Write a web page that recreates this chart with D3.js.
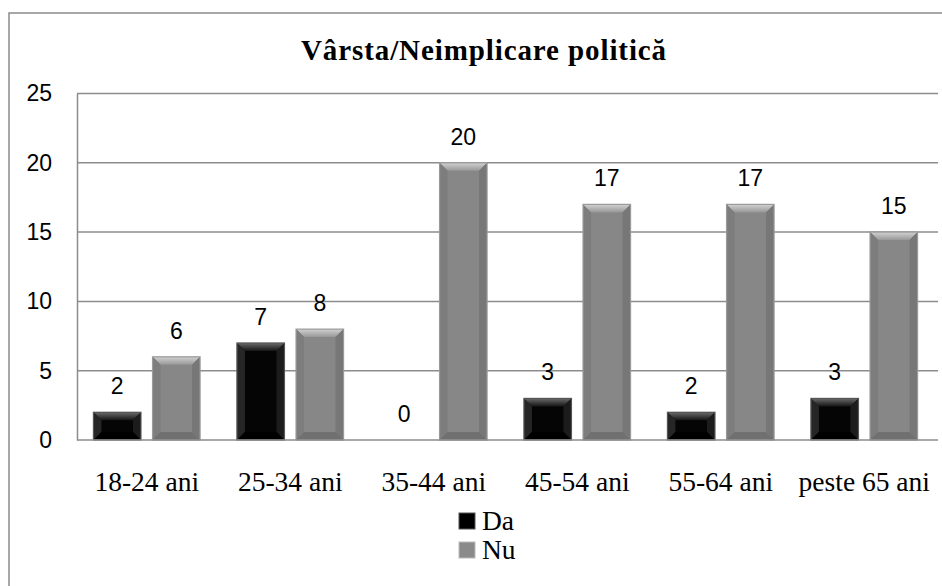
<!DOCTYPE html>
<html>
<head>
<meta charset="utf-8">
<script src="https://cdn.jsdelivr.net/npm/d3@7"></script>
<style>
  html, body { margin: 0; padding: 0; background: #fff; }
  svg { display: block; }
</style>
</head>
<body>
<svg id="chart" width="942" height="586"></svg>
<script>
const categories = ["18-24 ani", "25-34 ani", "35-44 ani", "45-54 ani", "55-64 ani", "peste 65 ani"];
const seriesNames = ["Da", "Nu"];
const daValues = [2, 7, 0, 3, 2, 3];
const nuValues = [6, 8, 20, 17, 17, 15];
const yTicks = [0, 5, 10, 15, 20, 25];
const titleText = "Vârsta/Neimplicare politică";

const svg = d3.select("#chart");
const plot = { left: 77, right: 938, top: 93.5, bottom: 440 };

const defs = svg.append("defs");
function vgrad(id, stops) {
  const g = defs.append("linearGradient").attr("id", id).attr("x1", 0).attr("y1", 0).attr("x2", 0).attr("y2", 1);
  stops.forEach(s => g.append("stop").attr("offset", s[0]).attr("stop-color", s[1]));
}
function hgrad(id, stops) {
  const g = defs.append("linearGradient").attr("id", id).attr("x1", 0).attr("y1", 0).attr("x2", 1).attr("y2", 0);
  stops.forEach(s => g.append("stop").attr("offset", s[0]).attr("stop-color", s[1]));
}
hgrad("bodyDa", [[0, "#1a1a1a"], [0.15, "#050505"], [0.85, "#050505"], [1, "#1a1a1a"]]);
hgrad("bodyNu", [[0, "#777"], [0.15, "#878787"], [0.85, "#878787"], [1, "#777"]]);
vgrad("topDa", [[0, "#6a6a6a"], [1, "#151515"]]);
vgrad("topNu", [[0, "#d2d2d2"], [1, "#979797"]]);

// outer border
svg.append("rect").attr("x", 9).attr("y", 13).attr("width", 960).attr("height", 600)
  .attr("fill", "none").attr("stroke", "#8a8a8a").attr("stroke-width", 1.5);

// title
svg.append("text").attr("x", 484).attr("y", 60).attr("text-anchor", "middle")
  .attr("font-family", "'Liberation Serif', serif").attr("font-weight", "bold")
  .attr("font-size", 29).attr("letter-spacing", 0.9).attr("fill", "#000").text(titleText);

const y = d3.scaleLinear().domain([0, 25]).range([plot.bottom, plot.top]);
const x0 = d3.scaleBand().domain(categories).range([plot.left - 2, plot.right - 2]).paddingInner(0.257).paddingOuter(0.1285);
const x1 = d3.scaleBand().domain(seriesNames).range([0, x0.bandwidth()]).paddingInner(0.196);

// grid lines
svg.append("g").selectAll("line").data(yTicks.filter(t => t > 0)).join("line")
  .attr("x1", plot.left).attr("x2", plot.right)
  .attr("y1", d => y(d)).attr("y2", d => y(d))
  .attr("stroke", "#8c8c8c").attr("stroke-width", 1.5);

// y axis
const yAxis = d3.axisLeft(y).tickValues(yTicks).tickSize(0).tickPadding(25);
const gy = svg.append("g").attr("transform", `translate(${plot.left},0)`).call(yAxis);
gy.select(".domain").attr("stroke", "#8c8c8c").attr("stroke-width", 1.5);
gy.selectAll("text").attr("font-family", "'Liberation Sans', sans-serif").attr("font-size", 23).attr("fill", "#000");

// bars
const data = categories.map((c, i) => ({ cat: c, vals: [{ s: "Da", v: daValues[i] }, { s: "Nu", v: nuValues[i] }] }));
const groups = svg.append("g").selectAll("g").data(data).join("g")
  .attr("transform", d => `translate(${x0(d.cat)},0)`);

const bars = groups.selectAll("g.bar").data(d => d.vals).join("g").attr("class", "bar");
bars.each(function (d) {
  if (d.v <= 0) return;
  const g = d3.select(this);
  const bx = x1(d.s), bw = x1.bandwidth();
  const by = y(d.v), bh = y(0) - y(d.v);
  const isDa = d.s === "Da";
  const b = Math.min(8, bh / 2);
  g.append("rect").attr("x", bx).attr("y", by).attr("width", bw).attr("height", bh)
    .attr("fill", isDa ? "url(#bodyDa)" : "url(#bodyNu)");
  g.append("path").attr("d", `M${bx},${by}L${bx + bw},${by}L${bx + bw - b},${by + b}L${bx + b},${by + b}Z`)
    .attr("fill", isDa ? "url(#topDa)" : "url(#topNu)");
  g.append("path").attr("d", `M${bx},${by}L${bx + b},${by + b}L${bx + b},${by + bh - b}L${bx},${by + bh}Z`)
    .attr("fill", isDa ? "#262626" : "#7d7d7d");
  g.append("path").attr("d", `M${bx + bw},${by}L${bx + bw - b},${by + b}L${bx + bw - b},${by + bh - b}L${bx + bw},${by + bh}Z`)
    .attr("fill", isDa ? "#1c1c1c" : "#777");
  g.append("path").attr("d", `M${bx},${by + bh}L${bx + b},${by + bh - b}L${bx + bw - b},${by + bh - b}L${bx + bw},${by + bh}Z`)
    .attr("fill", isDa ? "#000" : "#707070");
  g.append("rect").attr("x", bx).attr("y", by).attr("width", bw).attr("height", bh)
    .attr("fill", "none").attr("stroke", isDa ? "#555" : "#9a9a9a").attr("stroke-width", 1.2);
});

// value labels
bars.append("text")
  .attr("x", d => x1(d.s) + x1.bandwidth() / 2)
  .attr("y", d => y(d.v) - 18)
  .attr("text-anchor", "middle")
  .attr("font-family", "'Liberation Sans', sans-serif").attr("font-size", 23).attr("fill", "#000")
  .text(d => d.v);

// x axis baseline
svg.append("line").attr("x1", plot.left).attr("x2", plot.right).attr("y1", y(0)).attr("y2", y(0))
  .attr("stroke", "#8c8c8c").attr("stroke-width", 1.5);

// x labels
const xAxis = d3.axisBottom(x0).tickSize(0).tickPadding(0);
const gx = svg.append("g").attr("transform", `translate(0,${y(0)})`).call(xAxis);
gx.select(".domain").remove();
gx.selectAll("text").attr("dy", null).attr("y", 51)
  .attr("font-family", "'Liberation Serif', serif").attr("font-size", 27.5).attr("fill", "#000");

// legend
const legend = svg.append("g");
const legY = [521, 550];
const legColors = { Da: ["#000", "#555"], Nu: ["#8a8a8a", "#bbb"] };
seriesNames.forEach((s, i) => {
  const ly = legY[i];
  legend.append("rect").attr("x", 459).attr("y", ly - 8).attr("width", 16).attr("height", 16)
    .attr("fill", legColors[s][0]).attr("stroke", legColors[s][1]).attr("stroke-width", 1);
  legend.append("text").attr("x", 482).attr("y", ly + 9)
    .attr("font-family", "'Liberation Serif', serif").attr("font-size", 27.5).attr("fill", "#000").text(s);
});
</script>
</body>
</html>
